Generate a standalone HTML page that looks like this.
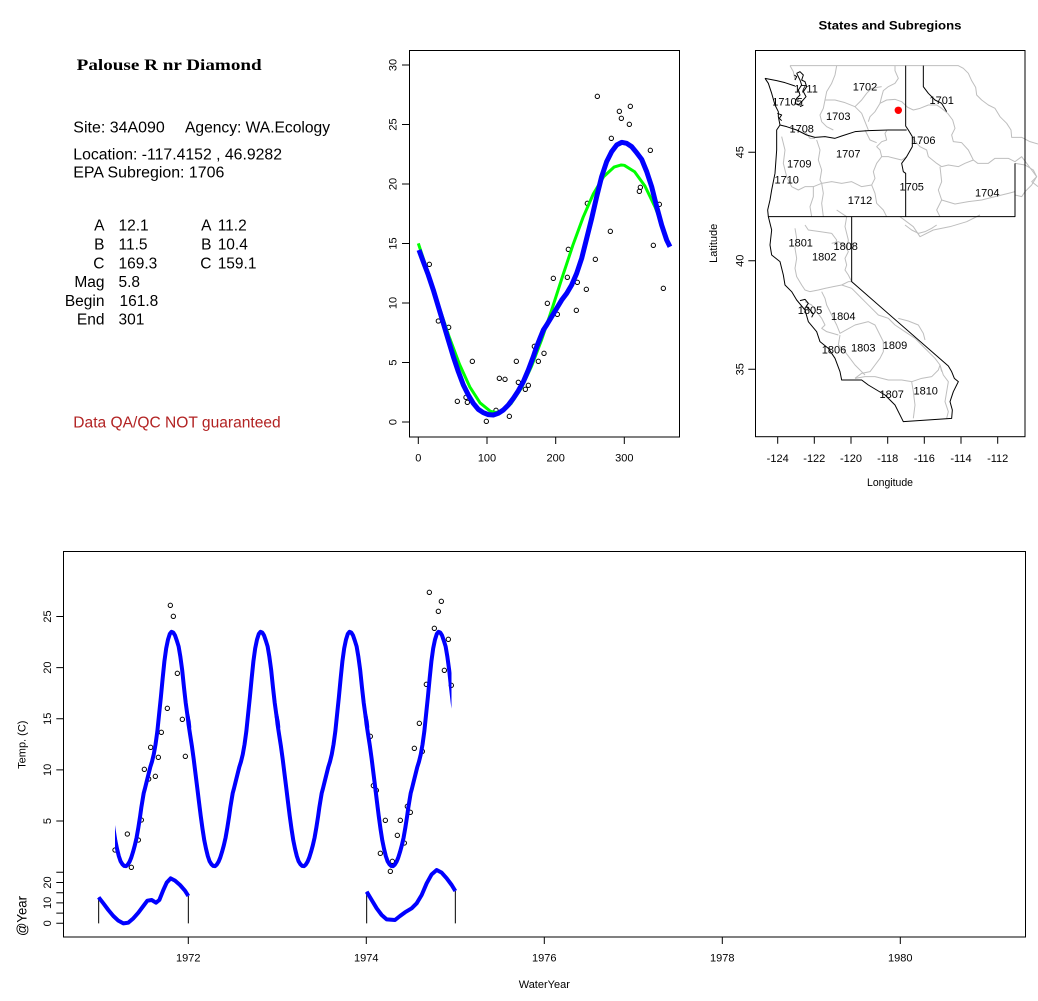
<!DOCTYPE html>
<html><head><meta charset="utf-8"><style>
html,body{margin:0;padding:0;background:#fff;}
svg{display:block;}
text{font-family:"Liberation Sans",Arial,sans-serif;font-size:11px;fill:#000;}
.g{fill:none;stroke:#bebebe;stroke-width:3;stroke-linejoin:round;}
.k{fill:none;stroke:#000;stroke-width:3;stroke-linejoin:round;}
</style></head><body>
<svg width="1038" height="1001" viewBox="0 0 1038 1001" xmlns="http://www.w3.org/2000/svg">
<rect width="1038" height="1001" fill="#fff"/>

<!-- Left info panel -->
<text x="76.7" y="70" style="font-family:'Liberation Serif',serif;font-weight:bold;font-size:16px" textLength="185" lengthAdjust="spacingAndGlyphs">Palouse R nr Diamond</text>
<g style="font-size:15.5px">
<text x="73.3" y="132.7" style="font-size:15.5px" textLength="91.5" lengthAdjust="spacingAndGlyphs">Site: 34A090</text>
<text x="185" y="132.7" style="font-size:15.5px" textLength="145" lengthAdjust="spacingAndGlyphs">Agency: WA.Ecology</text>
<text x="73.3" y="159.3" style="font-size:15.5px" textLength="208.7" lengthAdjust="spacingAndGlyphs">Location: -117.4152 , 46.9282</text>
<text x="73.3" y="177.7" style="font-size:15.5px" textLength="151" lengthAdjust="spacingAndGlyphs">EPA Subregion: 1706</text>
</g>
<g style="font-size:15.5px">
<text x="104.5" y="230.7" text-anchor="end" style="font-size:15.5px">A</text>
<text x="118.5" y="230.7" style="font-size:15.5px">12.1</text>
<text x="104.5" y="249.5" text-anchor="end" style="font-size:15.5px">B</text>
<text x="118.5" y="249.5" style="font-size:15.5px">11.5</text>
<text x="104.5" y="268.3" text-anchor="end" style="font-size:15.5px">C</text>
<text x="118.5" y="268.3" style="font-size:15.5px">169.3</text>
<text x="104.5" y="287.1" text-anchor="end" style="font-size:15.5px">Mag</text>
<text x="118.5" y="287.1" style="font-size:15.5px">5.8</text>
<text x="104.5" y="305.9" text-anchor="end" style="font-size:15.5px">Begin</text>
<text x="119.5" y="305.9" style="font-size:15.5px">161.8</text>
<text x="104.5" y="324.7" text-anchor="end" style="font-size:15.5px">End</text>
<text x="118.5" y="324.7" style="font-size:15.5px">301</text>
<text x="211.5" y="230.7" text-anchor="end" style="font-size:15.5px">A</text>
<text x="217.7" y="230.7" style="font-size:15.5px">11.2</text>
<text x="211.5" y="249.5" text-anchor="end" style="font-size:15.5px">B</text>
<text x="217.7" y="249.5" style="font-size:15.5px">10.4</text>
<text x="211.5" y="268.3" text-anchor="end" style="font-size:15.5px">C</text>
<text x="217.7" y="268.3" style="font-size:15.5px">159.1</text>
</g>
<text x="73.3" y="427.7" style="font-size:15.5px;fill:#b22222" textLength="207.4" lengthAdjust="spacingAndGlyphs">Data QA/QC NOT guaranteed</text>

<!-- Middle plot -->
<g transform="translate(370,40) scale(0.333333)" fill="none" stroke="#000" stroke-width="3">
<circle cx="178" cy="673" r="6.5"/><circle cx="205" cy="843" r="6.5"/><circle cx="236" cy="862" r="6.5"/><circle cx="262" cy="1084" r="6.5"/><circle cx="288" cy="1072" r="6.5"/><circle cx="292" cy="1087" r="6.5"/><circle cx="307" cy="964" r="6.5"/><circle cx="349" cy="1144" r="6.5"/><circle cx="378" cy="1111" r="6.5"/><circle cx="388" cy="1015" r="6.5"/><circle cx="405" cy="1018" r="6.5"/><circle cx="418" cy="1129" r="6.5"/><circle cx="439" cy="964" r="6.5"/><circle cx="445" cy="1027" r="6.5"/><circle cx="466" cy="1048" r="6.5"/><circle cx="475" cy="1036" r="6.5"/><circle cx="493" cy="919" r="6.5"/><circle cx="505" cy="964" r="6.5"/><circle cx="522" cy="940" r="6.5"/><circle cx="532" cy="790" r="6.5"/><circle cx="550" cy="715" r="6.5"/><circle cx="562" cy="823" r="6.5"/><circle cx="592" cy="712" r="6.5"/><circle cx="595" cy="628" r="6.5"/><circle cx="619" cy="811" r="6.5"/><circle cx="622" cy="727" r="6.5"/><circle cx="649" cy="748" r="6.5"/><circle cx="652" cy="490" r="6.5"/><circle cx="676" cy="658" r="6.5"/><circle cx="682" cy="169" r="6.5"/><circle cx="721" cy="574" r="6.5"/><circle cx="724" cy="295" r="6.5"/><circle cx="748" cy="214" r="6.5"/><circle cx="754" cy="235" r="6.5"/><circle cx="778" cy="253" r="6.5"/><circle cx="781" cy="199" r="6.5"/><circle cx="808" cy="454" r="6.5"/><circle cx="811" cy="442" r="6.5"/><circle cx="841" cy="331" r="6.5"/><circle cx="850" cy="616" r="6.5"/><circle cx="868" cy="493" r="6.5"/><circle cx="880" cy="745" r="6.5"/>
</g>
<path transform="matrix(0.6867 0 0 -11.9 418.3 422)" vector-effect="non-scaling-stroke" fill="none" stroke="#00ff00" stroke-width="3" stroke-linejoin="round" d="M0,15.01 L15,12.41 L30,9.73 L45,7.15 L60,4.85 L75,2.95 L90,1.6 L105,0.9 L113,0.8 L120,0.88 L135,1.54 L150,2.84 L165,4.7 L180,6.98 L195,9.55 L210,12.23 L225,14.84 L240,17.2 L255,19.18 L270,20.62 L285,21.42 L295.5,21.6 L300,21.57 L315,21.03 L330,19.83 L345,18.04 L360,15.78 L366,14.8"/>
<path transform="matrix(0.6867 0 0 -11.9 418.3 422)" vector-effect="non-scaling-stroke" fill="none" stroke="#0000ff" stroke-width="5" stroke-linejoin="round" d="M1,14.45 L7.3,13.47 L14.6,12.35 L21.9,11.09 L29.2,9.69 L36.5,8.29 L43.7,6.89 L51,5.49 L58.3,4.23 L65.6,3.11 L72.9,2.27 L80.1,1.57 L87.4,1.06 L94.7,0.78 L102,0.62 L109.3,0.59 L116.5,0.73 L123.8,1.01 L131.1,1.43 L138.4,1.99 L145.7,2.63 L153,3.39 L160.2,4.37 L167.5,5.49 L172.4,6.33 L177.2,7.03 L182.1,7.73 L186.9,8.15 L194.2,8.85 L201.5,9.55 L208.8,10.25 L216.1,10.81 L223.3,11.51 L230.6,12.49 L237.9,13.75 L245.2,15.43 L252.5,17.11 L259.8,18.94 L267,20.62 L274.3,21.88 L281.6,22.72 L288.9,23.28 L296.2,23.5 L303.4,23.42 L310.7,23.14 L318,22.63 L325.3,22.07 L332.6,21.04 L339.8,19.78 L347.1,18.1 L354.4,16.55 L361.7,15.29 L366.5,14.73"/>
<rect x="409.5" y="50.5" width="270" height="386.5" fill="none" stroke="#000" stroke-width="1"/>
<path d="M418.3,437 v7 M487,437 v7 M555.7,437 v7 M624.3,437 v7 M409,422 h-7 M409,362.5 h-7 M409,303 h-7 M409,243.5 h-7 M409,184 h-7 M409,124.5 h-7 M409,65 h-7" stroke="#000" stroke-width="1" fill="none"/>
<g text-anchor="middle">
<text x="418.3" y="461.5">0</text><text x="487" y="461.5">100</text><text x="555.7" y="461.5">200</text><text x="624.3" y="461.5">300</text>
<text transform="translate(396.5,422) rotate(-90)">0</text>
<text transform="translate(396.5,362.5) rotate(-90)">5</text>
<text transform="translate(396.5,303) rotate(-90)">10</text>
<text transform="translate(396.5,243.5) rotate(-90)">15</text>
<text transform="translate(396.5,184) rotate(-90)">20</text>
<text transform="translate(396.5,124.5) rotate(-90)">25</text>
<text transform="translate(396.5,65) rotate(-90)">30</text>
</g>

<!-- Map -->
<text x="890" y="29.5" text-anchor="middle" style="font-weight:bold;font-size:12px" textLength="143" lengthAdjust="spacingAndGlyphs">States and Subregions</text>
<g transform="translate(755,50) scale(0.333333)">
<polyline class="g" points="105,47 610,47 625,55 640,70 650,92 662,112 665,135 680,150 700,165 720,175 735,200 755,220 768,240 770,262 800,262 825,275 849,282"/>
<polyline class="g" points="245,47 240,75 230,100 215,125 210,150 205,175 195,195 200,215 215,230 235,240"/>
<polyline class="g" points="210,150 240,150 270,158 300,170 320,190 330,215 340,240"/>
<polyline class="g" points="300,170 320,150 335,130 350,115 380,110"/>
<polyline class="g" points="420,47 420,62 430,85 420,100 400,110 385,122 380,140 375,160 360,185 345,200 340,215"/>
<polyline class="g" points="375,160 395,150 420,148 440,155 458,172 475,180 495,175 520,165 545,165 560,175 578,190 593,210 600,235 590,255 595,275 620,278 640,300 655,330 668,340 700,340 720,325 760,325 780,335"/>
<polyline class="g" points="470,262 495,290 515,300 520,320 545,340 560,350 580,345 610,350 630,340 655,330"/>
<polyline class="g" points="780,335 800,320 815,340 830,360 845,380 830,395 849,410"/>
<polyline class="g" points="555,350 560,395 550,420 560,450 545,480 555,500"/>
<polyline class="g" points="560,450 600,462 640,455 680,450 720,440 760,430 780,425"/>
<polyline class="g" points="175,410 200,400 230,395 260,400 290,395 320,410 350,405 360,385 355,365 365,340 380,320 375,300 365,290 380,275 395,270 390,250 395,242"/>
<polyline class="g" points="350,405 360,430 365,460 385,480 395,500"/>
<polyline class="g" points="80,260 90,300 85,340 95,380 110,410 130,420 150,410 175,410 175,440 165,470 170,500"/>
<polyline class="g" points="185,270 195,300 190,330 200,360 195,390 200,400 205,430 200,460 205,500"/>
<polyline class="g" points="150,245 165,265 180,265"/>
<polyline class="g" points="330,240 345,270 365,278"/>
<polyline class="g" points="380,320 400,320 420,325 440,330 455,320"/>
<polyline class="g" points="105,47 115,65 120,90"/>
</g>
<g transform="translate(700,10) scale(0.333333)">
<polyline class="g" points="600,620 640,650 660,680 700,660 750,650 800,635 840,615"/>
<polyline class="g" points="945,460 975,465 1000,480 1010,500 995,525 975,545 965,560 945,555"/>
<polyline class="g" points="410,600 440,620 435,650 445,690 440,720"/>
</g>
<g transform="translate(755,225) scale(0.333333)">
<polyline class="g" points="120,10 125,40 120,70 125,100 120,130 125,155 140,180 150,195 165,200 190,195 210,190 235,185 260,180 280,170 290,170"/>
<polyline class="g" points="150,0 160,15 195,20 230,25 245,45 240,60"/>
<polyline class="g" points="230,55 250,50 270,60 280,80 270,100 275,120 270,135 280,150 290,170"/>
<polyline class="g" points="200,200 210,220 215,240 230,270 245,300 255,325 300,300 340,290 360,300 375,330 385,350 385,380 375,400 360,420 345,440 320,445 300,460"/>
<polyline class="g" points="260,180 290,190 310,210 330,230 350,250 370,270 400,280 420,300 450,320 480,340 500,360 520,380 540,400 555,420 560,440"/>
<polyline class="g" points="255,330 250,360 270,380 285,400 300,420 320,440 330,450"/>
<polyline class="g" points="300,460 330,455 360,455 400,465 440,465 470,470 500,460 530,455 550,435 555,420"/>
<polyline class="g" points="470,470 475,500 480,540 475,580"/>
<polyline class="g" points="555,420 565,450 580,470 575,500 570,530 580,560 575,580"/>
<polyline class="g" points="450,0 470,15 490,25 510,20 530,10 545,0"/>
<polyline class="g" points="150,230 170,240 185,260 200,280 210,300 200,310 215,320 250,330"/>
<polyline class="g" points="430,280 460,288 490,300 505,325 510,345"/>
</g>
<g transform="translate(700,10) scale(0.333333)">
<polyline class="k" points="195,205 205,220 215,250 225,285 235,305 235,320 240,345 230,360 230,420 225,490 215,540 210,570 203,600 205,620 215,660 210,705 215,735 240,755 250,795 255,825 275,845 290,870 315,900 325,935 350,965 360,995 385,1015 405,1045 420,1085 425,1110 485,1110 505,1125 530,1140 555,1155 585,1185 605,1225 610,1235 755,1225 757,1200 750,1175 760,1145 770,1125 775,1115 763,1105 755,1085 745,1068 455,815 455,620"/>
<polyline class="k" points="195,205 230,212 255,218 285,228"/>
<polyline class="k" points="205,620 945,620 945,460"/>
<polyline class="k" points="617,167 617,348 625,360 637,380 637,410 620,440 605,460 610,485 617,490 617,620"/>
<polyline class="k" points="240,345 260,350 290,360 320,375 345,382 375,380 405,385 425,378 465,365 505,362 565,360 620,360"/>
<polyline class="k" points="670,167 670,230 685,250 705,270 725,280 740,305"/>
<polyline class="k" points="290,190 300,185 310,195 305,210 315,215 320,230 310,245 318,260 305,275 295,285 285,280 290,265 300,255 295,240 305,225 300,210 290,190"/>
<polyline class="k" points="283,195 290,200 285,210"/>
<polyline class="k" points="300,290 310,285"/>
<polyline class="k" points="232,310 245,315 238,325 245,332"/>
<polyline class="k" points="300,872 315,868 325,880 318,890 330,900 340,912 335,922"/>
</g>
<circle cx="898.3" cy="110.3" r="3.7" fill="#ff0000"/>
<g text-anchor="middle">
<text x="806" y="92.3">1711</text>
<text x="865" y="90.7">1702</text>
<text x="941.7" y="104">1701</text>
<text x="787.5" y="105.7">17105</text>
<text x="838.3" y="120">1703</text>
<text x="801.7" y="132.3">1708</text>
<text x="923.3" y="144">1706</text>
<text x="848.3" y="157.3">1707</text>
<text x="799.3" y="167.3">1709</text>
<text x="786.7" y="183.3">1710</text>
<text x="911.7" y="190.7">1705</text>
<text x="987.3" y="196.3">1704</text>
<text x="860" y="204">1712</text>
<text x="800.7" y="246.3">1801</text>
<text x="845.7" y="250">1808</text>
<text x="824.3" y="260.7">1802</text>
<text x="810" y="314">1805</text>
<text x="843.3" y="320">1804</text>
<text x="834" y="353.3">1806</text>
<text x="863.3" y="351.3">1803</text>
<text x="895" y="349">1809</text>
<text x="891.7" y="398">1807</text>
<text x="925.7" y="394.7">1810</text>
</g>
<rect x="755.5" y="50.5" width="269.5" height="386.2" fill="none" stroke="#000" stroke-width="1"/>
<path d="M777.7,436.7 v7 M814.3,436.7 v7 M851,436.7 v7 M887.7,436.7 v7 M924.3,436.7 v7 M961,436.7 v7 M997.7,436.7 v7 M755.3,369.3 h-7 M755.3,260.7 h-7 M755.3,152.3 h-7" stroke="#000" stroke-width="1" fill="none"/>
<g text-anchor="middle">
<text x="777.7" y="462">-124</text><text x="814.3" y="462">-122</text><text x="851" y="462">-120</text><text x="887.7" y="462">-118</text><text x="924.3" y="462">-116</text><text x="961" y="462">-114</text><text x="997.7" y="462">-112</text>
<text transform="translate(743.3,369.3) rotate(-90)">35</text>
<text transform="translate(743.3,260.7) rotate(-90)">40</text>
<text transform="translate(743.3,152.3) rotate(-90)">45</text>
<text x="890" y="486" textLength="46" lengthAdjust="spacingAndGlyphs">Longitude</text>
<text transform="translate(717,243.3) rotate(-90)">Latitude</text>
</g>

<!-- Bottom plot -->
<g transform="translate(0,540) scale(0.333333)" fill="none" stroke="#000" stroke-width="3">
<circle cx="345" cy="930" r="6.5"/><circle cx="382" cy="882" r="6.5"/><circle cx="394" cy="982" r="6.5"/><circle cx="415" cy="900" r="6.5"/><circle cx="424" cy="840" r="6.5"/><circle cx="433" cy="688" r="6.5"/><circle cx="446" cy="717" r="6.5"/><circle cx="452" cy="622" r="6.5"/><circle cx="466" cy="709" r="6.5"/><circle cx="475" cy="652" r="6.5"/><circle cx="484" cy="577" r="6.5"/><circle cx="502" cy="505" r="6.5"/><circle cx="511" cy="196" r="6.5"/><circle cx="520" cy="229" r="6.5"/><circle cx="532" cy="400" r="6.5"/><circle cx="547" cy="538" r="6.5"/><circle cx="556" cy="649" r="6.5"/>
<circle cx="1111" cy="589" r="6.5"/><circle cx="1120" cy="737" r="6.5"/><circle cx="1129" cy="751" r="6.5"/><circle cx="1141" cy="940" r="6.5"/><circle cx="1156" cy="841" r="6.5"/><circle cx="1171" cy="994" r="6.5"/><circle cx="1177" cy="964" r="6.5"/><circle cx="1192" cy="886" r="6.5"/><circle cx="1201" cy="841" r="6.5"/><circle cx="1213" cy="909" r="6.5"/><circle cx="1222" cy="799" r="6.5"/><circle cx="1231" cy="817" r="6.5"/><circle cx="1243" cy="625" r="6.5"/><circle cx="1258" cy="550" r="6.5"/><circle cx="1267" cy="634" r="6.5"/><circle cx="1279" cy="433" r="6.5"/><circle cx="1288" cy="157" r="6.5"/><circle cx="1303" cy="265" r="6.5"/><circle cx="1315" cy="214" r="6.5"/><circle cx="1324" cy="184" r="6.5"/><circle cx="1333" cy="391" r="6.5"/><circle cx="1345" cy="298" r="6.5"/><circle cx="1354" cy="436" r="6.5"/>
</g>
<defs><clipPath id="bc"><rect x="115" y="560" width="336.5" height="320"/></clipPath></defs>
<g clip-path="url(#bc)" fill="none" stroke="#0000ff" stroke-width="4" stroke-linejoin="round" stroke-linecap="round">
<path transform="matrix(0.24384 0 0 -10.23 99.3 872.2)" vector-effect="non-scaling-stroke" d="M-3,15.3 L1,14.45 L7.3,13.47 L14.6,12.35 L21.9,11.09 L29.2,9.69 L36.5,8.29 L43.7,6.89 L51,5.49 L58.3,4.23 L65.6,3.11 L72.9,2.27 L80.1,1.57 L87.4,1.06 L94.7,0.78 L102,0.62 L109.3,0.59 L116.5,0.73 L123.8,1.01 L131.1,1.43 L138.4,1.99 L145.7,2.63 L153,3.39 L160.2,4.37 L167.5,5.49 L172.4,6.33 L177.2,7.03 L182.1,7.73 L186.9,8.15 L194.2,8.85 L201.5,9.55 L208.8,10.25 L216.1,10.81 L223.3,11.51 L230.6,12.49 L237.9,13.75 L245.2,15.43 L252.5,17.11 L259.8,18.94 L267,20.62 L274.3,21.88 L281.6,22.72 L288.9,23.28 L296.2,23.5 L303.4,23.42 L310.7,23.14 L318,22.63 L325.3,22.07 L332.6,21.04 L339.8,19.78 L347.1,18.1 L354.4,16.55 L361.7,15.29 L366.5,14.73 L369,14.2"/>
<path transform="matrix(0.24384 0 0 -10.23 188.3 872.2)" vector-effect="non-scaling-stroke" d="M-3,15.3 L1,14.45 L7.3,13.47 L14.6,12.35 L21.9,11.09 L29.2,9.69 L36.5,8.29 L43.7,6.89 L51,5.49 L58.3,4.23 L65.6,3.11 L72.9,2.27 L80.1,1.57 L87.4,1.06 L94.7,0.78 L102,0.62 L109.3,0.59 L116.5,0.73 L123.8,1.01 L131.1,1.43 L138.4,1.99 L145.7,2.63 L153,3.39 L160.2,4.37 L167.5,5.49 L172.4,6.33 L177.2,7.03 L182.1,7.73 L186.9,8.15 L194.2,8.85 L201.5,9.55 L208.8,10.25 L216.1,10.81 L223.3,11.51 L230.6,12.49 L237.9,13.75 L245.2,15.43 L252.5,17.11 L259.8,18.94 L267,20.62 L274.3,21.88 L281.6,22.72 L288.9,23.28 L296.2,23.5 L303.4,23.42 L310.7,23.14 L318,22.63 L325.3,22.07 L332.6,21.04 L339.8,19.78 L347.1,18.1 L354.4,16.55 L361.7,15.29 L366.5,14.73 L369,14.2"/>
<path transform="matrix(0.24384 0 0 -10.23 277.3 872.2)" vector-effect="non-scaling-stroke" d="M-3,15.3 L1,14.45 L7.3,13.47 L14.6,12.35 L21.9,11.09 L29.2,9.69 L36.5,8.29 L43.7,6.89 L51,5.49 L58.3,4.23 L65.6,3.11 L72.9,2.27 L80.1,1.57 L87.4,1.06 L94.7,0.78 L102,0.62 L109.3,0.59 L116.5,0.73 L123.8,1.01 L131.1,1.43 L138.4,1.99 L145.7,2.63 L153,3.39 L160.2,4.37 L167.5,5.49 L172.4,6.33 L177.2,7.03 L182.1,7.73 L186.9,8.15 L194.2,8.85 L201.5,9.55 L208.8,10.25 L216.1,10.81 L223.3,11.51 L230.6,12.49 L237.9,13.75 L245.2,15.43 L252.5,17.11 L259.8,18.94 L267,20.62 L274.3,21.88 L281.6,22.72 L288.9,23.28 L296.2,23.5 L303.4,23.42 L310.7,23.14 L318,22.63 L325.3,22.07 L332.6,21.04 L339.8,19.78 L347.1,18.1 L354.4,16.55 L361.7,15.29 L366.5,14.73 L369,14.2"/>
<path transform="matrix(0.24384 0 0 -10.23 366.3 872.2)" vector-effect="non-scaling-stroke" d="M-3,15.3 L1,14.45 L7.3,13.47 L14.6,12.35 L21.9,11.09 L29.2,9.69 L36.5,8.29 L43.7,6.89 L51,5.49 L58.3,4.23 L65.6,3.11 L72.9,2.27 L80.1,1.57 L87.4,1.06 L94.7,0.78 L102,0.62 L109.3,0.59 L116.5,0.73 L123.8,1.01 L131.1,1.43 L138.4,1.99 L145.7,2.63 L153,3.39 L160.2,4.37 L167.5,5.49 L172.4,6.33 L177.2,7.03 L182.1,7.73 L186.9,8.15 L194.2,8.85 L201.5,9.55 L208.8,10.25 L216.1,10.81 L223.3,11.51 L230.6,12.49 L237.9,13.75 L245.2,15.43 L252.5,17.11 L259.8,18.94 L267,20.62 L274.3,21.88 L281.6,22.72 L288.9,23.28 L296.2,23.5 L303.4,23.42 L310.7,23.14 L318,22.63 L325.3,22.07 L332.6,21.04 L339.8,19.78 L347.1,18.1 L354.4,16.55 L361.7,15.29 L366.5,14.73"/>
</g>
<g transform="translate(0,540) scale(0.333333)" fill="none">
<path d="M296,1072 V1150 M565,1068 V1150 M1100,1055 V1150 M1366,1053 V1150" stroke="#000" stroke-width="3"/>
<polyline stroke="#0000ff" stroke-width="12" stroke-linejoin="round" points="296,1072 310,1090 325,1110 340,1128 355,1142 370,1150 385,1148 400,1135 415,1118 430,1098 442,1082 455,1080 468,1088 478,1080 490,1050 500,1028 512,1015 525,1022 540,1035 555,1052 565,1068"/>
<polyline stroke="#0000ff" stroke-width="12" stroke-linejoin="round" points="1100,1055 1115,1080 1130,1105 1145,1125 1160,1138 1185,1140 1200,1128 1215,1117 1235,1105 1250,1090 1265,1065 1280,1030 1295,1003 1310,990 1325,998 1340,1015 1355,1035 1366,1053"/>
</g>
<rect x="63.5" y="551.5" width="962" height="385.5" fill="none" stroke="#000" stroke-width="1"/>
<path d="M188.3,937 v7 M366.3,937 v7 M544.3,937 v7 M722.3,937 v7 M900.3,937 v7 M63.3,821 h-7 M63.3,769.9 h-7 M63.3,718.8 h-7 M63.3,667.6 h-7 M63.3,616.5 h-7 M63.3,923.3 h-7 M63.3,913.1 h-7 M63.3,902.9 h-7 M63.3,892.7 h-7 M63.3,882.5 h-7 M63.3,872.3 h-7" stroke="#000" stroke-width="1" fill="none"/>
<g text-anchor="middle">
<text x="188.3" y="961.5">1972</text><text x="366.3" y="961.5">1974</text><text x="544.3" y="961.5">1976</text><text x="722.3" y="961.5">1978</text><text x="900.3" y="961.5">1980</text>
<text transform="translate(51,821) rotate(-90)">5</text>
<text transform="translate(51,769.9) rotate(-90)">10</text>
<text transform="translate(51,718.8) rotate(-90)">15</text>
<text transform="translate(51,667.6) rotate(-90)">20</text>
<text transform="translate(51,616.5) rotate(-90)">25</text>
<text transform="translate(51,923.3) rotate(-90)">0</text>
<text transform="translate(51,902.9) rotate(-90)">10</text>
<text transform="translate(51,882.5) rotate(-90)">20</text>
<text transform="translate(25.3,744.7) rotate(-90)">Temp. (C)</text>
<text transform="translate(26.7,916) rotate(-90)" style="font-size:13.5px" textLength="40" lengthAdjust="spacingAndGlyphs">@Year</text>
<text x="544.3" y="988">WaterYear</text>
</g>
</svg>
</body></html>
